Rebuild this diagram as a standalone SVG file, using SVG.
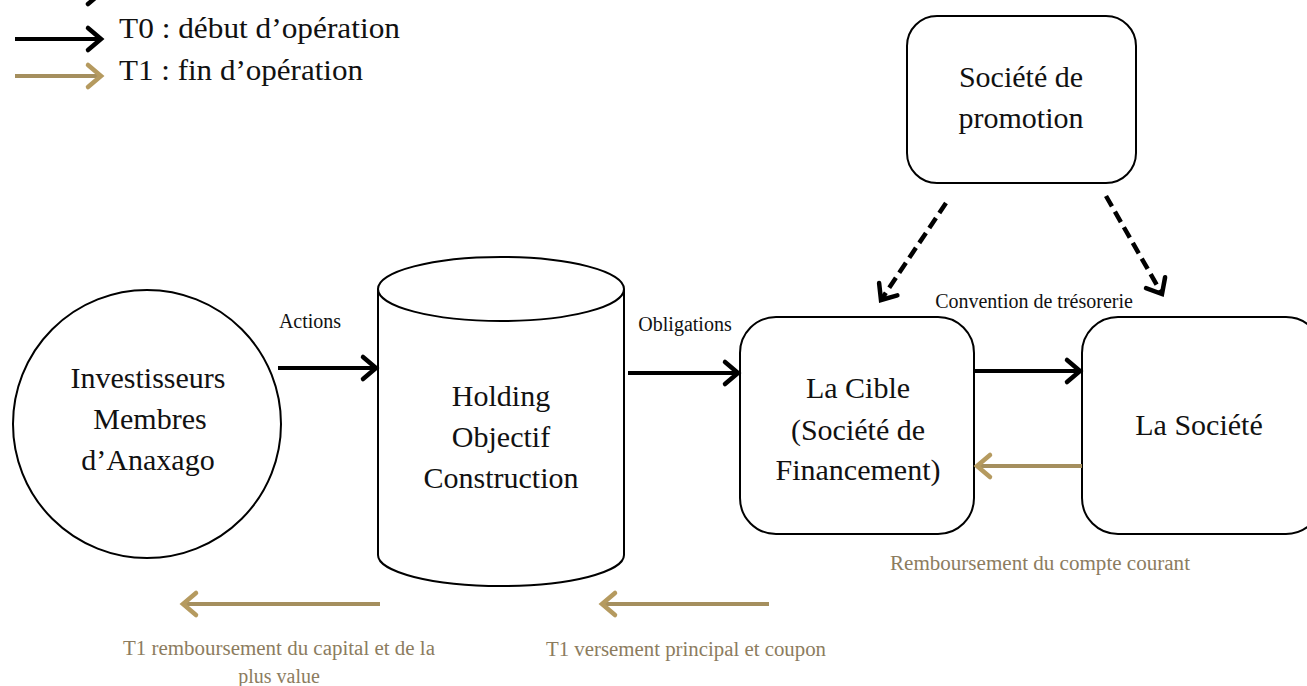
<svg xmlns="http://www.w3.org/2000/svg" width="1307" height="686" viewBox="0 0 1307 686">
<style>
.node{fill:#fff;stroke:#000;stroke-width:2}
.nt{font-size:30px;fill:#111;text-anchor:middle}
.lab{font-size:20px;fill:#111;text-anchor:middle}
.gl{font-size:20px;fill:#8c7c5e;text-anchor:middle}
.leg{font-size:30px;fill:#111}
.blk{stroke:#000;stroke-width:4;fill:none}
.gold{stroke:#a58f5e;stroke-width:4;fill:none}
.dash{stroke:#000;stroke-width:4.5;fill:none;stroke-dasharray:12 6}
</style>
<defs>
<marker id="hb" markerUnits="userSpaceOnUse" viewBox="-18 -16 22 32" markerWidth="22" markerHeight="32" refX="0" refY="0" orient="auto" overflow="visible">
<path d="M-13,-11 L0,0 L-13,11" fill="none" stroke="#000" stroke-width="4.5" stroke-linecap="round" stroke-linejoin="miter"/>
</marker>
<marker id="hg" markerUnits="userSpaceOnUse" viewBox="-18 -16 22 32" markerWidth="22" markerHeight="32" refX="0" refY="0" orient="auto" overflow="visible">
<path d="M-13,-11 L0,0 L-13,11" fill="none" stroke="#b59a5f" stroke-width="4.5" stroke-linecap="round" stroke-linejoin="miter"/>
</marker>
</defs>
<rect width="1307" height="686" fill="#fff"/>
<g font-family="'Liberation Serif', 'DejaVu Serif', serif">
<g id="legend">
<line x1="15" y1="-7" x2="101" y2="-7" class="blk" marker-end="url(#hb)"/>
<line x1="15" y1="39" x2="101" y2="39" class="blk" marker-end="url(#hb)"/>
<text x="119" y="38" class="leg" textLength="281" lengthAdjust="spacingAndGlyphs">T0 : début d’opération</text>
<line x1="15" y1="76" x2="101" y2="76" class="gold" marker-end="url(#hg)"/>
<text x="119" y="80" class="leg" textLength="244" lengthAdjust="spacingAndGlyphs">T1 : fin d’opération</text>
</g>

<g id="investisseurs">
<circle cx="147" cy="424" r="134" class="node"/>
<text x="148" y="388" class="nt">Investisseurs</text>
<text x="150" y="429" class="nt">Membres</text>
<text x="148" y="470" class="nt">d’Anaxago</text>
</g>

<g id="holding">
<path d="M378,289 L378,555 A123,31 0 0 0 624,555 L624,289" class="node"/>
<ellipse cx="501" cy="289" rx="123" ry="32" class="node"/>
<text x="501" y="406" class="nt">Holding</text>
<text x="501" y="447" class="nt">Objectif</text>
<text x="501" y="488" class="nt">Construction</text>
</g>

<g id="cible">
<rect x="740" y="317" width="234" height="217" rx="36" class="node"/>
<text x="858" y="398" class="nt">La Cible</text>
<text x="858" y="440" class="nt">(Société de</text>
<text x="858" y="480" class="nt">Financement)</text>
</g>

<g id="societe">
<rect x="1082" y="317" width="240" height="217" rx="36" class="node"/>
<text x="1199" y="435" class="nt">La Société</text>
</g>

<g id="promotion">
<rect x="907" y="16" width="229" height="167" rx="30" class="node"/>
<text x="1021" y="87" class="nt">Société de</text>
<text x="1021" y="128" class="nt">promotion</text>
</g>

<g id="connectors">
<line x1="278" y1="368" x2="376" y2="368" class="blk" marker-end="url(#hb)"/>
<text x="310" y="328" class="lab">Actions</text>
<line x1="628" y1="373" x2="738" y2="373" class="blk" marker-end="url(#hb)"/>
<text x="685" y="331" class="lab">Obligations</text>
<line x1="974" y1="371" x2="1080" y2="371" class="blk" marker-end="url(#hb)"/>
<text x="1034" y="308" class="lab">Convention de trésorerie</text>
<line x1="1082" y1="466" x2="977" y2="466" class="gold" marker-end="url(#hg)"/>
<text x="1040" y="570" class="gl" textLength="300" lengthAdjust="spacingAndGlyphs">Remboursement du compte courant</text>
<line x1="946" y1="203" x2="881" y2="300" class="dash" marker-end="url(#hb)"/>
<line x1="1106" y1="196" x2="1162" y2="294" class="dash" marker-end="url(#hb)"/>
<line x1="380" y1="604" x2="183" y2="604" class="gold" marker-end="url(#hg)"/>
<text x="279" y="655" class="gl" textLength="312" lengthAdjust="spacingAndGlyphs">T1 remboursement du capital et de la</text>
<text x="279" y="683" class="gl">plus value</text>
<line x1="769" y1="604" x2="602" y2="604" class="gold" marker-end="url(#hg)"/>
<text x="686" y="656" class="gl" textLength="280" lengthAdjust="spacingAndGlyphs">T1 versement principal et coupon</text>
</g>
</g>
</svg>
